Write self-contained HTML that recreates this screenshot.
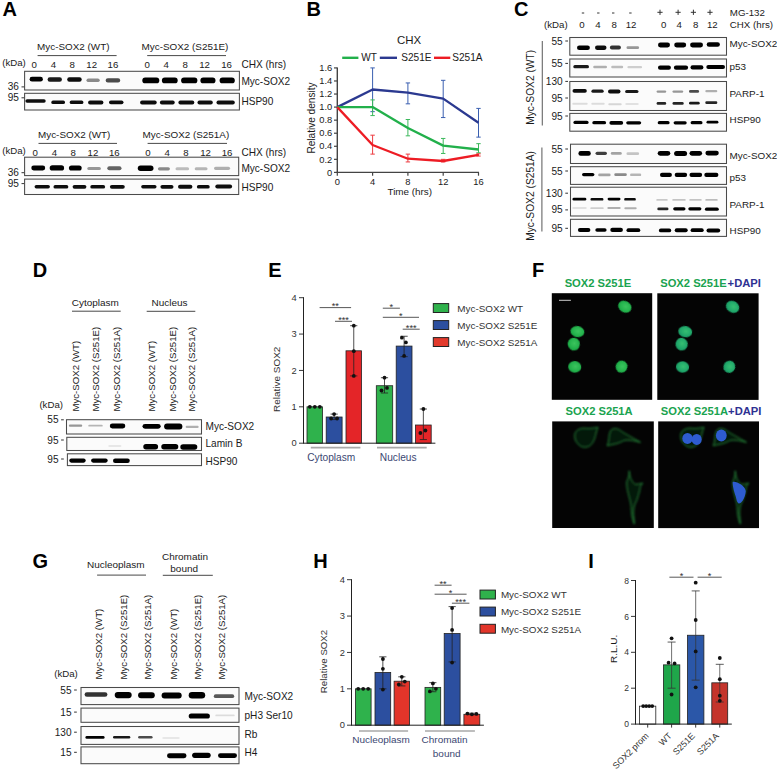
<!DOCTYPE html>
<html><head><meta charset="utf-8"><style>
html,body{margin:0;padding:0;background:#fff;}
svg{display:block;font-family:"Liberation Sans", sans-serif;}
</style></head><body>
<svg width="777" height="771" viewBox="0 0 777 771">
<defs>
<radialGradient id="ng1" cx="55%" cy="45%" r="60%"><stop offset="0" stop-color="#3cc45e"/><stop offset="0.7" stop-color="#22b14b"/><stop offset="1" stop-color="#17913c"/></radialGradient>
<radialGradient id="ng2" cx="55%" cy="45%" r="60%"><stop offset="0" stop-color="#36bf72"/><stop offset="0.7" stop-color="#1fa66a"/><stop offset="1" stop-color="#168858"/></radialGradient>
<filter id="b1" x="-20%" y="-100%" width="140%" height="300%"><feGaussianBlur stdDeviation="0.55"/></filter>
<filter id="b05" x="-30%" y="-30%" width="160%" height="160%"><feGaussianBlur stdDeviation="0.6"/></filter>
<filter id="b04" x="-30%" y="-30%" width="160%" height="160%"><feGaussianBlur stdDeviation="0.45"/></filter>
<filter id="b07" x="-30%" y="-30%" width="160%" height="160%"><feGaussianBlur stdDeviation="0.8"/></filter>
</defs>
<rect width="777" height="771" fill="#fff"/>
<text x="2.5" y="16.0" font-size="20" text-anchor="start" fill="#000" font-weight="bold">A</text>
<text x="37.1" y="50.3" font-size="9.88" text-anchor="start" fill="#1a1a1a">Myc-SOX2 (WT)</text>
<line x1="37.6" y1="55.6" x2="116.6" y2="55.6" stroke="#333" stroke-width="0.9"/>
<text x="141.6" y="50.3" font-size="9.88" text-anchor="start" fill="#1a1a1a">Myc-SOX2 (S251E)</text>
<line x1="147.2" y1="55.6" x2="226" y2="55.6" stroke="#333" stroke-width="0.9"/>
<text x="2.2" y="66" font-size="9.67" text-anchor="start" fill="#1a1a1a">(kDa)</text>
<text x="34.3" y="68.3" font-size="9.67" text-anchor="middle" fill="#1a1a1a">0</text>
<text x="53.5" y="68.3" font-size="9.67" text-anchor="middle" fill="#1a1a1a">4</text>
<text x="72.3" y="68.3" font-size="9.67" text-anchor="middle" fill="#1a1a1a">8</text>
<text x="91.7" y="68.3" font-size="9.67" text-anchor="middle" fill="#1a1a1a">12</text>
<text x="112.9" y="68.3" font-size="9.67" text-anchor="middle" fill="#1a1a1a">16</text>
<text x="147.2" y="68.3" font-size="9.67" text-anchor="middle" fill="#1a1a1a">0</text>
<text x="166.2" y="68.3" font-size="9.67" text-anchor="middle" fill="#1a1a1a">4</text>
<text x="185.3" y="68.3" font-size="9.67" text-anchor="middle" fill="#1a1a1a">8</text>
<text x="204.5" y="68.3" font-size="9.67" text-anchor="middle" fill="#1a1a1a">12</text>
<text x="226.5" y="68.3" font-size="9.67" text-anchor="middle" fill="#1a1a1a">16</text>
<text x="241.4" y="68.3" font-size="10.09" text-anchor="start" fill="#1a1a1a">CHX (hrs)</text>
<rect x="24.6" y="71.3" width="214.8" height="18.700000000000003" fill="#fbfbfb" stroke="#4a4a4a" stroke-width="1.05"/>
<rect x="24.6" y="93.3" width="214.8" height="16.700000000000003" fill="#fbfbfb" stroke="#4a4a4a" stroke-width="1.05"/>
<text x="18.9" y="90.4" font-size="10.09" text-anchor="end" fill="#1a1a1a">36</text>
<line x1="21.5" y1="86.9" x2="24.2" y2="86.9" stroke="#333" stroke-width="1"/>
<text x="18.9" y="101.3" font-size="10.09" text-anchor="end" fill="#1a1a1a">95</text>
<line x1="21.5" y1="97.8" x2="24.2" y2="97.8" stroke="#333" stroke-width="1"/>
<text x="241.4" y="85.1" font-size="10.09" text-anchor="start" fill="#1a1a1a">Myc-SOX2</text>
<text x="241.4" y="104.6" font-size="10.09" text-anchor="start" fill="#1a1a1a">HSP90</text>
<rect x="29.6" y="76.8" width="13.3" height="4.8" rx="2.4" ry="2.4" fill="#000" fill-opacity="1" filter="url(#b1)"/>
<rect x="47.6" y="77.3" width="14.3" height="4.5" rx="2.2" ry="2.2" fill="#000" fill-opacity="0.9" filter="url(#b1)"/>
<rect x="67.2" y="77.3" width="14.5" height="4.5" rx="2.2" ry="2.2" fill="#000" fill-opacity="0.95" filter="url(#b1)"/>
<rect x="86.5" y="78.4" width="13.2" height="3.7" rx="1.9" ry="1.9" fill="#000" fill-opacity="0.45" filter="url(#b1)"/>
<rect x="105.7" y="78.2" width="14.5" height="4.3" rx="2.1" ry="2.1" fill="#000" fill-opacity="0.7" filter="url(#b1)"/>
<rect x="142.3" y="77.4" width="17.0" height="5.9" rx="2.9" ry="2.9" fill="#000" fill-opacity="1" filter="url(#b1)"/>
<rect x="161.9" y="77.4" width="15.8" height="5.9" rx="2.9" ry="2.9" fill="#000" fill-opacity="1" filter="url(#b1)"/>
<rect x="181.1" y="77.4" width="16.3" height="5.9" rx="2.9" ry="2.9" fill="#000" fill-opacity="1" filter="url(#b1)"/>
<rect x="200.4" y="77.4" width="15.1" height="5.9" rx="2.9" ry="2.9" fill="#000" fill-opacity="1" filter="url(#b1)"/>
<rect x="219.6" y="77.4" width="15.2" height="5.9" rx="2.9" ry="2.9" fill="#000" fill-opacity="1" filter="url(#b1)"/>
<rect x="25.4" y="99.3" width="20.3" height="3.5" rx="1.7" ry="1.7" fill="#000" fill-opacity="0.95" filter="url(#b1)"/>
<rect x="51.3" y="100.6" width="13.7" height="3.5" rx="1.7" ry="1.7" fill="#000" fill-opacity="0.95" filter="url(#b1)"/>
<rect x="69.7" y="100.6" width="13.7" height="3.5" rx="1.7" ry="1.7" fill="#000" fill-opacity="0.95" filter="url(#b1)"/>
<rect x="88.1" y="100.6" width="15.3" height="3.8" rx="1.9" ry="1.9" fill="#000" fill-opacity="0.95" filter="url(#b1)"/>
<rect x="109.0" y="100.4" width="14.5" height="3.8" rx="1.9" ry="1.9" fill="#000" fill-opacity="0.95" filter="url(#b1)"/>
<rect x="140.1" y="100.6" width="16.6" height="3.8" rx="1.9" ry="1.9" fill="#000" fill-opacity="0.95" filter="url(#b1)"/>
<rect x="159.9" y="100.6" width="14.8" height="3.8" rx="1.9" ry="1.9" fill="#000" fill-opacity="0.95" filter="url(#b1)"/>
<rect x="178.4" y="100.6" width="15.9" height="3.8" rx="1.9" ry="1.9" fill="#000" fill-opacity="0.95" filter="url(#b1)"/>
<rect x="197.5" y="100.6" width="15.3" height="3.8" rx="1.9" ry="1.9" fill="#000" fill-opacity="0.95" filter="url(#b1)"/>
<rect x="216.5" y="100.6" width="18.3" height="3.8" rx="1.9" ry="1.9" fill="#000" fill-opacity="0.95" filter="url(#b1)"/>
<text x="38.0" y="138.3" font-size="9.88" text-anchor="start" fill="#1a1a1a">Myc-SOX2 (WT)</text>
<line x1="38.5" y1="143.4" x2="117" y2="143.4" stroke="#333" stroke-width="0.9"/>
<text x="142.5" y="138.3" font-size="9.88" text-anchor="start" fill="#1a1a1a">Myc-SOX2 (S251A)</text>
<line x1="147.6" y1="143.4" x2="227" y2="143.4" stroke="#333" stroke-width="0.9"/>
<text x="2.2" y="154.3" font-size="9.67" text-anchor="start" fill="#1a1a1a">(kDa)</text>
<text x="35.1" y="155.5" font-size="9.67" text-anchor="middle" fill="#1a1a1a">0</text>
<text x="54.4" y="155.5" font-size="9.67" text-anchor="middle" fill="#1a1a1a">4</text>
<text x="73.3" y="155.5" font-size="9.67" text-anchor="middle" fill="#1a1a1a">8</text>
<text x="92.9" y="155.5" font-size="9.67" text-anchor="middle" fill="#1a1a1a">12</text>
<text x="114.3" y="155.5" font-size="9.67" text-anchor="middle" fill="#1a1a1a">16</text>
<text x="148" y="155.5" font-size="9.67" text-anchor="middle" fill="#1a1a1a">0</text>
<text x="167.1" y="155.5" font-size="9.67" text-anchor="middle" fill="#1a1a1a">4</text>
<text x="186" y="155.5" font-size="9.67" text-anchor="middle" fill="#1a1a1a">8</text>
<text x="205.6" y="155.5" font-size="9.67" text-anchor="middle" fill="#1a1a1a">12</text>
<text x="227" y="155.5" font-size="9.67" text-anchor="middle" fill="#1a1a1a">16</text>
<text x="241.4" y="155.5" font-size="10.09" text-anchor="start" fill="#1a1a1a">CHX (hrs)</text>
<rect x="24.6" y="157.2" width="214.1" height="18.400000000000006" fill="#fbfbfb" stroke="#4a4a4a" stroke-width="1.05"/>
<rect x="24.6" y="179.1" width="214.1" height="15.400000000000006" fill="#fbfbfb" stroke="#4a4a4a" stroke-width="1.05"/>
<text x="18.9" y="176.2" font-size="10.09" text-anchor="end" fill="#1a1a1a">36</text>
<line x1="21.5" y1="172.7" x2="24.2" y2="172.7" stroke="#333" stroke-width="1"/>
<text x="18.9" y="187.1" font-size="10.09" text-anchor="end" fill="#1a1a1a">95</text>
<line x1="21.5" y1="183.6" x2="24.2" y2="183.6" stroke="#333" stroke-width="1"/>
<text x="241.4" y="171.9" font-size="10.09" text-anchor="start" fill="#1a1a1a">Myc-SOX2</text>
<text x="241.4" y="191.1" font-size="10.09" text-anchor="start" fill="#1a1a1a">HSP90</text>
<rect x="31.3" y="165.6" width="13.9" height="4.8" rx="2.4" ry="2.4" fill="#000" fill-opacity="1" filter="url(#b1)"/>
<rect x="49.7" y="165.3" width="14.4" height="5.3" rx="2.7" ry="2.7" fill="#000" fill-opacity="1" filter="url(#b1)"/>
<rect x="68.9" y="165.4" width="12.8" height="5.1" rx="2.6" ry="2.6" fill="#000" fill-opacity="1" filter="url(#b1)"/>
<rect x="87.3" y="166.9" width="13.6" height="3.2" rx="1.6" ry="1.6" fill="#000" fill-opacity="0.4" filter="url(#b1)"/>
<rect x="107.3" y="166.3" width="14.2" height="4.0" rx="2.0" ry="2.0" fill="#000" fill-opacity="0.6" filter="url(#b1)"/>
<rect x="137.8" y="165.6" width="15.7" height="5.3" rx="2.7" ry="2.7" fill="#000" fill-opacity="1" filter="url(#b1)"/>
<rect x="157.9" y="167.2" width="12.0" height="3.2" rx="1.6" ry="1.6" fill="#000" fill-opacity="0.45" filter="url(#b1)"/>
<rect x="175.5" y="167.3" width="13.6" height="3.0" rx="1.5" ry="1.5" fill="#000" fill-opacity="0.25" filter="url(#b1)"/>
<rect x="194.7" y="167.3" width="12.8" height="3.0" rx="1.5" ry="1.5" fill="#000" fill-opacity="0.28" filter="url(#b1)"/>
<rect x="214.0" y="166.7" width="16.1" height="3.2" rx="1.6" ry="1.6" fill="#000" fill-opacity="0.3" filter="url(#b1)"/>
<rect x="34.6" y="184.9" width="15.3" height="3.5" rx="1.7" ry="1.7" fill="#000" fill-opacity="0.95" filter="url(#b1)"/>
<rect x="53.5" y="185.1" width="14.8" height="3.5" rx="1.7" ry="1.7" fill="#000" fill-opacity="0.95" filter="url(#b1)"/>
<rect x="72.6" y="184.9" width="13.8" height="3.8" rx="1.9" ry="1.9" fill="#000" fill-opacity="0.95" filter="url(#b1)"/>
<rect x="90.3" y="185.1" width="14.8" height="3.5" rx="1.7" ry="1.7" fill="#000" fill-opacity="0.95" filter="url(#b1)"/>
<rect x="109.9" y="184.9" width="14.9" height="3.8" rx="1.9" ry="1.9" fill="#000" fill-opacity="0.95" filter="url(#b1)"/>
<rect x="141.2" y="184.9" width="15.3" height="3.5" rx="1.7" ry="1.7" fill="#000" fill-opacity="0.95" filter="url(#b1)"/>
<rect x="160.4" y="184.9" width="13.1" height="3.8" rx="1.9" ry="1.9" fill="#000" fill-opacity="0.95" filter="url(#b1)"/>
<rect x="178.0" y="184.8" width="14.4" height="4.0" rx="2.0" ry="2.0" fill="#000" fill-opacity="0.95" filter="url(#b1)"/>
<rect x="196.9" y="185.1" width="12.8" height="3.5" rx="1.7" ry="1.7" fill="#000" fill-opacity="0.95" filter="url(#b1)"/>
<rect x="215.3" y="184.6" width="16.8" height="4.0" rx="2.0" ry="2.0" fill="#000" fill-opacity="0.95" filter="url(#b1)"/>
<text x="306.5" y="16.0" font-size="20" text-anchor="start" fill="#000" font-weight="bold">B</text>
<text x="409" y="44.3" font-size="11.44" text-anchor="middle" fill="#1a1a1a">CHX</text>
<line x1="342.2" y1="57.8" x2="358.4" y2="57.8" stroke="#22b04b" stroke-width="2.4"/>
<text x="361.3" y="61.2" font-size="10.09" text-anchor="start" fill="#1a1a1a">WT</text>
<line x1="379.8" y1="57.8" x2="397" y2="57.8" stroke="#2b3990" stroke-width="2.4"/>
<text x="401.3" y="61.2" font-size="10.09" text-anchor="start" fill="#1a1a1a">S251E</text>
<line x1="434" y1="57.8" x2="450.3" y2="57.8" stroke="#ed1c24" stroke-width="2.4"/>
<text x="452.3" y="61.2" font-size="10.09" text-anchor="start" fill="#1a1a1a">S251A</text>
<line x1="337.3" y1="67.42" x2="337.3" y2="173.0" stroke="#444" stroke-width="1.4"/>
<line x1="336.7" y1="172.4" x2="479.0" y2="172.4" stroke="#444" stroke-width="1.4"/>
<line x1="334.0" y1="172.4" x2="337.3" y2="172.4" stroke="#444" stroke-width="1.2"/>
<text x="332.2" y="175.6" font-size="9.36" text-anchor="end" fill="#1a1a1a">0</text>
<line x1="334.0" y1="159.34" x2="337.3" y2="159.34" stroke="#444" stroke-width="1.2"/>
<text x="332.2" y="162.54" font-size="9.36" text-anchor="end" fill="#1a1a1a">0.2</text>
<line x1="334.0" y1="146.28" x2="337.3" y2="146.28" stroke="#444" stroke-width="1.2"/>
<text x="332.2" y="149.48" font-size="9.36" text-anchor="end" fill="#1a1a1a">0.4</text>
<line x1="334.0" y1="133.22" x2="337.3" y2="133.22" stroke="#444" stroke-width="1.2"/>
<text x="332.2" y="136.42" font-size="9.36" text-anchor="end" fill="#1a1a1a">0.6</text>
<line x1="334.0" y1="120.16" x2="337.3" y2="120.16" stroke="#444" stroke-width="1.2"/>
<text x="332.2" y="123.36" font-size="9.36" text-anchor="end" fill="#1a1a1a">0.8</text>
<line x1="334.0" y1="107.10000000000001" x2="337.3" y2="107.10000000000001" stroke="#444" stroke-width="1.2"/>
<text x="332.2" y="110.30000000000001" font-size="9.36" text-anchor="end" fill="#1a1a1a">1.0</text>
<line x1="334.0" y1="94.04" x2="337.3" y2="94.04" stroke="#444" stroke-width="1.2"/>
<text x="332.2" y="97.24000000000001" font-size="9.36" text-anchor="end" fill="#1a1a1a">1.2</text>
<line x1="334.0" y1="80.98000000000002" x2="337.3" y2="80.98000000000002" stroke="#444" stroke-width="1.2"/>
<text x="332.2" y="84.18000000000002" font-size="9.36" text-anchor="end" fill="#1a1a1a">1.4</text>
<line x1="334.0" y1="67.92" x2="337.3" y2="67.92" stroke="#444" stroke-width="1.2"/>
<text x="332.2" y="71.12" font-size="9.36" text-anchor="end" fill="#1a1a1a">1.6</text>
<line x1="337.3" y1="172.4" x2="337.3" y2="175.70000000000002" stroke="#444" stroke-width="1.2"/>
<text x="337.3" y="185" font-size="9.36" text-anchor="middle" fill="#1a1a1a">0</text>
<line x1="372.6" y1="172.4" x2="372.6" y2="175.70000000000002" stroke="#444" stroke-width="1.2"/>
<text x="372.6" y="185" font-size="9.36" text-anchor="middle" fill="#1a1a1a">4</text>
<line x1="407.9" y1="172.4" x2="407.9" y2="175.70000000000002" stroke="#444" stroke-width="1.2"/>
<text x="407.9" y="185" font-size="9.36" text-anchor="middle" fill="#1a1a1a">8</text>
<line x1="443.2" y1="172.4" x2="443.2" y2="175.70000000000002" stroke="#444" stroke-width="1.2"/>
<text x="443.2" y="185" font-size="9.36" text-anchor="middle" fill="#1a1a1a">12</text>
<line x1="478.5" y1="172.4" x2="478.5" y2="175.70000000000002" stroke="#444" stroke-width="1.2"/>
<text x="478.5" y="185" font-size="9.36" text-anchor="middle" fill="#1a1a1a">16</text>
<text x="409.8" y="194.6" font-size="9.88" text-anchor="middle" fill="#1a1a1a">Time (hrs)</text>
<text x="315.4" y="118" font-size="10.09" text-anchor="middle" fill="#1a1a1a" transform="rotate(-90 315.4 118)">Relative density</text>
<line x1="372.6" y1="67.92" x2="372.6" y2="111.671" stroke="#3a5fb0" stroke-width="1"/>
<line x1="370.40000000000003" y1="67.92" x2="374.8" y2="67.92" stroke="#3a5fb0" stroke-width="1"/>
<line x1="370.40000000000003" y1="111.671" x2="374.8" y2="111.671" stroke="#3a5fb0" stroke-width="1"/>
<line x1="407.9" y1="82.93900000000001" x2="407.9" y2="103.83500000000001" stroke="#3a5fb0" stroke-width="1"/>
<line x1="405.7" y1="82.93900000000001" x2="410.09999999999997" y2="82.93900000000001" stroke="#3a5fb0" stroke-width="1"/>
<line x1="405.7" y1="103.83500000000001" x2="410.09999999999997" y2="103.83500000000001" stroke="#3a5fb0" stroke-width="1"/>
<line x1="443.2" y1="80.32700000000001" x2="443.2" y2="117.548" stroke="#3a5fb0" stroke-width="1"/>
<line x1="441.0" y1="80.32700000000001" x2="445.4" y2="80.32700000000001" stroke="#3a5fb0" stroke-width="1"/>
<line x1="441.0" y1="117.548" x2="445.4" y2="117.548" stroke="#3a5fb0" stroke-width="1"/>
<line x1="478.5" y1="108.406" x2="478.5" y2="137.138" stroke="#3a5fb0" stroke-width="1"/>
<line x1="476.3" y1="108.406" x2="480.7" y2="108.406" stroke="#3a5fb0" stroke-width="1"/>
<line x1="476.3" y1="137.138" x2="480.7" y2="137.138" stroke="#3a5fb0" stroke-width="1"/>
<line x1="372.6" y1="99.917" x2="372.6" y2="115.589" stroke="#3cb85c" stroke-width="1"/>
<line x1="370.40000000000003" y1="99.917" x2="374.8" y2="99.917" stroke="#3cb85c" stroke-width="1"/>
<line x1="370.40000000000003" y1="115.589" x2="374.8" y2="115.589" stroke="#3cb85c" stroke-width="1"/>
<line x1="407.9" y1="119.507" x2="407.9" y2="135.832" stroke="#3cb85c" stroke-width="1"/>
<line x1="405.7" y1="119.507" x2="410.09999999999997" y2="119.507" stroke="#3cb85c" stroke-width="1"/>
<line x1="405.7" y1="135.832" x2="410.09999999999997" y2="135.832" stroke="#3cb85c" stroke-width="1"/>
<line x1="443.2" y1="138.44400000000002" x2="443.2" y2="153.46300000000002" stroke="#3cb85c" stroke-width="1"/>
<line x1="441.0" y1="138.44400000000002" x2="445.4" y2="138.44400000000002" stroke="#3cb85c" stroke-width="1"/>
<line x1="441.0" y1="153.46300000000002" x2="445.4" y2="153.46300000000002" stroke="#3cb85c" stroke-width="1"/>
<line x1="478.5" y1="143.668" x2="478.5" y2="152.81" stroke="#3cb85c" stroke-width="1"/>
<line x1="476.3" y1="143.668" x2="480.7" y2="143.668" stroke="#3cb85c" stroke-width="1"/>
<line x1="476.3" y1="152.81" x2="480.7" y2="152.81" stroke="#3cb85c" stroke-width="1"/>
<line x1="372.6" y1="135.179" x2="372.6" y2="154.116" stroke="#ed3c40" stroke-width="1"/>
<line x1="370.40000000000003" y1="135.179" x2="374.8" y2="135.179" stroke="#ed3c40" stroke-width="1"/>
<line x1="370.40000000000003" y1="154.116" x2="374.8" y2="154.116" stroke="#ed3c40" stroke-width="1"/>
<line x1="407.9" y1="154.116" x2="407.9" y2="161.952" stroke="#ed3c40" stroke-width="1"/>
<line x1="405.7" y1="154.116" x2="410.09999999999997" y2="154.116" stroke="#ed3c40" stroke-width="1"/>
<line x1="405.7" y1="161.952" x2="410.09999999999997" y2="161.952" stroke="#ed3c40" stroke-width="1"/>
<line x1="443.2" y1="159.34" x2="443.2" y2="161.952" stroke="#ed3c40" stroke-width="1"/>
<line x1="441.0" y1="159.34" x2="445.4" y2="159.34" stroke="#ed3c40" stroke-width="1"/>
<line x1="441.0" y1="161.952" x2="445.4" y2="161.952" stroke="#ed3c40" stroke-width="1"/>
<line x1="478.5" y1="153.7895" x2="478.5" y2="156.07500000000002" stroke="#ed3c40" stroke-width="1"/>
<line x1="476.3" y1="153.7895" x2="480.7" y2="153.7895" stroke="#ed3c40" stroke-width="1"/>
<line x1="476.3" y1="156.07500000000002" x2="480.7" y2="156.07500000000002" stroke="#ed3c40" stroke-width="1"/>
<polyline points="337.3,107.1 372.6,89.5 407.9,92.7 443.2,98.6 478.5,122.8" fill="none" stroke="#2b3990" stroke-width="2.3" stroke-linejoin="round"/>
<polyline points="337.3,107.1 372.6,107.1 407.9,128.0 443.2,145.6 478.5,149.5" fill="none" stroke="#22b04b" stroke-width="2.3" stroke-linejoin="round"/>
<polyline points="337.3,107.1 372.6,145.0 407.9,158.7 443.2,161.0 478.5,154.8" fill="none" stroke="#ed1c24" stroke-width="2.3" stroke-linejoin="round"/>
<text x="514" y="16.0" font-size="20" text-anchor="start" fill="#000" font-weight="bold">C</text>
<line x1="581.8" y1="13" x2="584.2" y2="13" stroke="#333" stroke-width="1"/>
<line x1="597.0999999999999" y1="13" x2="599.5" y2="13" stroke="#333" stroke-width="1"/>
<line x1="612.0" y1="13" x2="614.4000000000001" y2="13" stroke="#333" stroke-width="1"/>
<line x1="629.1999999999999" y1="13" x2="631.6" y2="13" stroke="#333" stroke-width="1"/>
<line x1="657.4" y1="12.3" x2="662.6" y2="12.3" stroke="#333" stroke-width="1"/>
<line x1="660" y1="9.7" x2="660" y2="14.9" stroke="#333" stroke-width="1"/>
<line x1="675.5" y1="12.3" x2="680.7" y2="12.3" stroke="#333" stroke-width="1"/>
<line x1="678.1" y1="9.7" x2="678.1" y2="14.9" stroke="#333" stroke-width="1"/>
<line x1="690.8" y1="12.3" x2="696.0" y2="12.3" stroke="#333" stroke-width="1"/>
<line x1="693.4" y1="9.7" x2="693.4" y2="14.9" stroke="#333" stroke-width="1"/>
<line x1="707.4" y1="12.3" x2="712.6" y2="12.3" stroke="#333" stroke-width="1"/>
<line x1="710" y1="9.7" x2="710" y2="14.9" stroke="#333" stroke-width="1"/>
<text x="729.8" y="15.5" font-size="9.72" text-anchor="start" fill="#1a1a1a">MG-132</text>
<text x="544" y="28.3" font-size="9.67" text-anchor="start" fill="#1a1a1a">(kDa)</text>
<text x="582" y="28.3" font-size="9.67" text-anchor="middle" fill="#1a1a1a">0</text>
<text x="597.9" y="28.3" font-size="9.67" text-anchor="middle" fill="#1a1a1a">4</text>
<text x="614.1" y="28.3" font-size="9.67" text-anchor="middle" fill="#1a1a1a">8</text>
<text x="631" y="28.3" font-size="9.67" text-anchor="middle" fill="#1a1a1a">12</text>
<text x="663.7" y="28.3" font-size="9.67" text-anchor="middle" fill="#1a1a1a">0</text>
<text x="679.3" y="28.3" font-size="9.67" text-anchor="middle" fill="#1a1a1a">4</text>
<text x="695.6" y="28.3" font-size="9.67" text-anchor="middle" fill="#1a1a1a">8</text>
<text x="712.3" y="28.3" font-size="9.67" text-anchor="middle" fill="#1a1a1a">12</text>
<text x="729.8" y="28.3" font-size="9.72" text-anchor="start" fill="#1a1a1a">CHX (hrs)</text>
<rect x="569.8" y="37.5" width="156.70000000000005" height="17.700000000000003" fill="#fbfbfb" stroke="#4a4a4a" stroke-width="1.05"/>
<rect x="569.8" y="59" width="156.70000000000005" height="18" fill="#fbfbfb" stroke="#4a4a4a" stroke-width="1.05"/>
<rect x="569.8" y="81.5" width="156.70000000000005" height="29.0" fill="#fbfbfb" stroke="#4a4a4a" stroke-width="1.05"/>
<rect x="569.8" y="113.4" width="156.70000000000005" height="17.799999999999983" fill="#fbfbfb" stroke="#4a4a4a" stroke-width="1.05"/>
<rect x="570.5" y="144.2" width="156.0" height="19.30000000000001" fill="#fbfbfb" stroke="#4a4a4a" stroke-width="1.05"/>
<rect x="570.5" y="166.7" width="156.0" height="17.700000000000017" fill="#fbfbfb" stroke="#4a4a4a" stroke-width="1.05"/>
<rect x="570.5" y="187.2" width="156.0" height="28.80000000000001" fill="#fbfbfb" stroke="#4a4a4a" stroke-width="1.05"/>
<rect x="570.5" y="219.3" width="156.0" height="17.099999999999994" fill="#fbfbfb" stroke="#4a4a4a" stroke-width="1.05"/>
<text x="562.7" y="44.5" font-size="10.09" text-anchor="end" fill="#1a1a1a">55</text>
<line x1="565.3" y1="41" x2="568" y2="41" stroke="#333" stroke-width="1"/>
<text x="562.7" y="66.9" font-size="10.09" text-anchor="end" fill="#1a1a1a">55</text>
<line x1="565.3" y1="63.4" x2="568" y2="63.4" stroke="#333" stroke-width="1"/>
<text x="562.7" y="84.9" font-size="10.09" text-anchor="end" fill="#1a1a1a">130</text>
<line x1="565.3" y1="81.4" x2="568" y2="81.4" stroke="#333" stroke-width="1"/>
<text x="562.7" y="101.5" font-size="10.09" text-anchor="end" fill="#1a1a1a">95</text>
<line x1="565.3" y1="98" x2="568" y2="98" stroke="#333" stroke-width="1"/>
<text x="562.7" y="119.5" font-size="10.09" text-anchor="end" fill="#1a1a1a">95</text>
<line x1="565.3" y1="116" x2="568" y2="116" stroke="#333" stroke-width="1"/>
<text x="562.7" y="152.5" font-size="10.09" text-anchor="end" fill="#1a1a1a">55</text>
<line x1="565.3" y1="149" x2="568" y2="149" stroke="#333" stroke-width="1"/>
<text x="562.7" y="174.5" font-size="10.09" text-anchor="end" fill="#1a1a1a">55</text>
<line x1="565.3" y1="171" x2="568" y2="171" stroke="#333" stroke-width="1"/>
<text x="562.7" y="196.7" font-size="10.09" text-anchor="end" fill="#1a1a1a">130</text>
<line x1="565.3" y1="193.2" x2="568" y2="193.2" stroke="#333" stroke-width="1"/>
<text x="562.7" y="213.4" font-size="10.09" text-anchor="end" fill="#1a1a1a">95</text>
<line x1="565.3" y1="209.9" x2="568" y2="209.9" stroke="#333" stroke-width="1"/>
<text x="562.7" y="231.8" font-size="10.09" text-anchor="end" fill="#1a1a1a">95</text>
<line x1="565.3" y1="228.3" x2="568" y2="228.3" stroke="#333" stroke-width="1"/>
<text x="729.5" y="46.8" font-size="9.88" text-anchor="start" fill="#1a1a1a">Myc-SOX2</text>
<text x="729.5" y="69.9" font-size="9.88" text-anchor="start" fill="#1a1a1a">p53</text>
<text x="729.5" y="96.6" font-size="9.88" text-anchor="start" fill="#1a1a1a">PARP-1</text>
<text x="729.5" y="123.3" font-size="9.88" text-anchor="start" fill="#1a1a1a">HSP90</text>
<text x="729.5" y="158.5" font-size="9.88" text-anchor="start" fill="#1a1a1a">Myc-SOX2</text>
<text x="729.5" y="180.5" font-size="9.88" text-anchor="start" fill="#1a1a1a">p53</text>
<text x="729.5" y="207.7" font-size="9.88" text-anchor="start" fill="#1a1a1a">PARP-1</text>
<text x="729.5" y="233.8" font-size="9.88" text-anchor="start" fill="#1a1a1a">HSP90</text>
<line x1="542.3" y1="41" x2="542.3" y2="125.5" stroke="#666" stroke-width="1.1"/>
<line x1="541.9" y1="147.5" x2="541.9" y2="231.4" stroke="#666" stroke-width="1.1"/>
<text x="533.8" y="87.3" font-size="10.24" text-anchor="middle" fill="#1a1a1a" transform="rotate(-90 533.8 87.3)">Myc-SOX2 (WT)</text>
<text x="533.8" y="195.9" font-size="10.24" text-anchor="middle" fill="#1a1a1a" transform="rotate(-90 533.8 195.9)">Myc-SOX2 (S251A)</text>
<rect x="577.0" y="45.4" width="12.9" height="4.6" rx="2.3" ry="2.3" fill="#000" fill-opacity="1" filter="url(#b1)"/>
<rect x="595.0" y="45.6" width="11.5" height="4.3" rx="2.1" ry="2.1" fill="#000" fill-opacity="0.95" filter="url(#b1)"/>
<rect x="609.9" y="45.6" width="11.0" height="3.8" rx="1.9" ry="1.9" fill="#000" fill-opacity="0.8" filter="url(#b1)"/>
<rect x="626.5" y="46.3" width="12.6" height="2.8" rx="1.4" ry="1.4" fill="#000" fill-opacity="0.4" filter="url(#b1)"/>
<rect x="658.0" y="42.6" width="12.0" height="4.8" rx="2.4" ry="2.4" fill="#000" fill-opacity="1" filter="url(#b1)"/>
<rect x="674.2" y="42.5" width="12.0" height="4.9" rx="2.5" ry="2.5" fill="#000" fill-opacity="1" filter="url(#b1)"/>
<rect x="690.1" y="42.6" width="12.9" height="4.8" rx="2.4" ry="2.4" fill="#000" fill-opacity="1" filter="url(#b1)"/>
<rect x="706.7" y="42.2" width="13.2" height="4.6" rx="2.3" ry="2.3" fill="#000" fill-opacity="1" filter="url(#b1)"/>
<rect x="573.3" y="65.1" width="15.7" height="3.1" rx="1.6" ry="1.6" fill="#000" fill-opacity="0.9" filter="url(#b1)"/>
<rect x="593.2" y="65.8" width="13.8" height="2.4" rx="1.2" ry="1.2" fill="#000" fill-opacity="0.3" filter="url(#b1)"/>
<rect x="611.2" y="65.8" width="12.0" height="2.4" rx="1.2" ry="1.2" fill="#000" fill-opacity="0.25" filter="url(#b1)"/>
<rect x="627.4" y="66.1" width="14.7" height="2.2" rx="1.1" ry="1.1" fill="#000" fill-opacity="0.18" filter="url(#b1)"/>
<rect x="658.0" y="65.5" width="12.9" height="4.3" rx="2.1" ry="2.1" fill="#000" fill-opacity="1" filter="url(#b1)"/>
<rect x="673.9" y="65.5" width="14.2" height="4.3" rx="2.1" ry="2.1" fill="#000" fill-opacity="1" filter="url(#b1)"/>
<rect x="690.5" y="65.3" width="12.9" height="4.3" rx="2.1" ry="2.1" fill="#000" fill-opacity="1" filter="url(#b1)"/>
<rect x="706.3" y="65.0" width="18.7" height="4.1" rx="2.0" ry="2.0" fill="#000" fill-opacity="1" filter="url(#b1)"/>
<rect x="572.5" y="89.1" width="14.3" height="3.6" rx="1.8" ry="1.8" fill="#000" fill-opacity="0.95" filter="url(#b1)"/>
<rect x="591.4" y="89.5" width="12.3" height="3.3" rx="1.7" ry="1.7" fill="#000" fill-opacity="0.9" filter="url(#b1)"/>
<rect x="608.0" y="89.5" width="12.5" height="4.0" rx="2.0" ry="2.0" fill="#000" fill-opacity="0.95" filter="url(#b1)"/>
<rect x="625.1" y="89.9" width="13.4" height="3.1" rx="1.6" ry="1.6" fill="#000" fill-opacity="0.9" filter="url(#b1)"/>
<rect x="572.3" y="102.8" width="15.4" height="1.9" rx="0.9" ry="0.9" fill="#000" fill-opacity="0.12" filter="url(#b1)"/>
<rect x="591.3" y="102.8" width="13.4" height="1.9" rx="0.9" ry="0.9" fill="#000" fill-opacity="0.12" filter="url(#b1)"/>
<rect x="608.3" y="103.2" width="13.4" height="2.1" rx="1.0" ry="1.0" fill="#000" fill-opacity="0.15" filter="url(#b1)"/>
<rect x="625.3" y="103.0" width="13.4" height="1.9" rx="0.9" ry="0.9" fill="#000" fill-opacity="0.1" filter="url(#b1)"/>
<rect x="656.6" y="90.4" width="9.6" height="2.4" rx="1.2" ry="1.2" fill="#000" fill-opacity="0.4" filter="url(#b1)"/>
<rect x="672.5" y="90.4" width="10.7" height="2.4" rx="1.2" ry="1.2" fill="#000" fill-opacity="0.4" filter="url(#b1)"/>
<rect x="689.0" y="90.1" width="10.1" height="2.7" rx="1.3" ry="1.3" fill="#000" fill-opacity="0.7" filter="url(#b1)"/>
<rect x="705.3" y="90.1" width="12.0" height="2.2" rx="1.1" ry="1.1" fill="#000" fill-opacity="0.3" filter="url(#b1)"/>
<rect x="656.6" y="102.1" width="9.6" height="2.7" rx="1.3" ry="1.3" fill="#000" fill-opacity="0.85" filter="url(#b1)"/>
<rect x="672.5" y="102.1" width="11.2" height="2.7" rx="1.3" ry="1.3" fill="#000" fill-opacity="0.85" filter="url(#b1)"/>
<rect x="689.0" y="101.8" width="10.7" height="2.8" rx="1.4" ry="1.4" fill="#000" fill-opacity="0.9" filter="url(#b1)"/>
<rect x="705.3" y="101.3" width="12.0" height="2.7" rx="1.3" ry="1.3" fill="#000" fill-opacity="0.85" filter="url(#b1)"/>
<rect x="573.4" y="120.8" width="15.2" height="3.3" rx="1.7" ry="1.7" fill="#000" fill-opacity="1" filter="url(#b1)"/>
<rect x="592.3" y="121.0" width="13.8" height="3.3" rx="1.7" ry="1.7" fill="#000" fill-opacity="1" filter="url(#b1)"/>
<rect x="609.4" y="121.1" width="13.8" height="3.6" rx="1.8" ry="1.8" fill="#000" fill-opacity="1" filter="url(#b1)"/>
<rect x="626.2" y="121.2" width="15.0" height="3.3" rx="1.7" ry="1.7" fill="#000" fill-opacity="1" filter="url(#b1)"/>
<rect x="657.7" y="121.1" width="11.9" height="3.1" rx="1.6" ry="1.6" fill="#000" fill-opacity="1" filter="url(#b1)"/>
<rect x="673.6" y="121.3" width="13.1" height="3.1" rx="1.6" ry="1.6" fill="#000" fill-opacity="1" filter="url(#b1)"/>
<rect x="690.6" y="121.1" width="11.9" height="3.1" rx="1.6" ry="1.6" fill="#000" fill-opacity="1" filter="url(#b1)"/>
<rect x="706.5" y="120.8" width="11.9" height="2.8" rx="1.4" ry="1.4" fill="#000" fill-opacity="1" filter="url(#b1)"/>
<rect x="578.4" y="151.1" width="12.4" height="4.6" rx="2.3" ry="2.3" fill="#000" fill-opacity="1" filter="url(#b1)"/>
<rect x="595.5" y="151.7" width="11.5" height="3.3" rx="1.7" ry="1.7" fill="#000" fill-opacity="0.75" filter="url(#b1)"/>
<rect x="610.8" y="152.0" width="11.0" height="2.8" rx="1.4" ry="1.4" fill="#000" fill-opacity="0.35" filter="url(#b1)"/>
<rect x="626.5" y="152.3" width="12.6" height="2.7" rx="1.3" ry="1.3" fill="#000" fill-opacity="0.22" filter="url(#b1)"/>
<rect x="657.7" y="150.9" width="12.6" height="4.8" rx="2.4" ry="2.4" fill="#000" fill-opacity="1" filter="url(#b1)"/>
<rect x="674.1" y="151.0" width="13.0" height="5.0" rx="2.5" ry="2.5" fill="#000" fill-opacity="1" filter="url(#b1)"/>
<rect x="689.5" y="150.9" width="12.6" height="4.8" rx="2.4" ry="2.4" fill="#000" fill-opacity="1" filter="url(#b1)"/>
<rect x="705.4" y="150.7" width="13.4" height="4.8" rx="2.4" ry="2.4" fill="#000" fill-opacity="1" filter="url(#b1)"/>
<rect x="582.0" y="172.9" width="12.4" height="3.3" rx="1.7" ry="1.7" fill="#000" fill-opacity="1" filter="url(#b1)"/>
<rect x="598.2" y="173.5" width="12.4" height="2.7" rx="1.3" ry="1.3" fill="#000" fill-opacity="0.35" filter="url(#b1)"/>
<rect x="614.3" y="173.3" width="12.5" height="2.7" rx="1.3" ry="1.3" fill="#000" fill-opacity="0.45" filter="url(#b1)"/>
<rect x="630.1" y="173.6" width="11.1" height="2.5" rx="1.2" ry="1.2" fill="#000" fill-opacity="0.28" filter="url(#b1)"/>
<rect x="660.0" y="172.8" width="11.9" height="4.1" rx="2.0" ry="2.0" fill="#000" fill-opacity="1" filter="url(#b1)"/>
<rect x="674.7" y="172.8" width="12.4" height="4.1" rx="2.0" ry="2.0" fill="#000" fill-opacity="1" filter="url(#b1)"/>
<rect x="689.5" y="172.8" width="12.6" height="4.1" rx="2.0" ry="2.0" fill="#000" fill-opacity="1" filter="url(#b1)"/>
<rect x="704.3" y="172.8" width="14.1" height="4.1" rx="2.0" ry="2.0" fill="#000" fill-opacity="1" filter="url(#b1)"/>
<rect x="572.5" y="197.8" width="13.8" height="2.7" rx="1.3" ry="1.3" fill="#000" fill-opacity="1" filter="url(#b1)"/>
<rect x="590.5" y="198.1" width="12.9" height="2.5" rx="1.2" ry="1.2" fill="#000" fill-opacity="0.95" filter="url(#b1)"/>
<rect x="607.6" y="197.7" width="12.9" height="2.8" rx="1.4" ry="1.4" fill="#000" fill-opacity="1" filter="url(#b1)"/>
<rect x="624.2" y="198.1" width="11.6" height="2.5" rx="1.2" ry="1.2" fill="#000" fill-opacity="0.95" filter="url(#b1)"/>
<rect x="572.3" y="207.1" width="14.4" height="1.9" rx="0.9" ry="0.9" fill="#000" fill-opacity="0.1" filter="url(#b1)"/>
<rect x="590.3" y="207.2" width="13.4" height="1.9" rx="0.9" ry="0.9" fill="#000" fill-opacity="0.18" filter="url(#b1)"/>
<rect x="607.3" y="207.0" width="13.4" height="2.1" rx="1.0" ry="1.0" fill="#000" fill-opacity="0.3" filter="url(#b1)"/>
<rect x="624.3" y="207.2" width="12.4" height="2.1" rx="1.0" ry="1.0" fill="#000" fill-opacity="0.3" filter="url(#b1)"/>
<rect x="656.3" y="198.9" width="11.4" height="1.9" rx="0.9" ry="0.9" fill="#000" fill-opacity="0.2" filter="url(#b1)"/>
<rect x="672.3" y="198.9" width="13.4" height="1.9" rx="0.9" ry="0.9" fill="#000" fill-opacity="0.22" filter="url(#b1)"/>
<rect x="689.3" y="198.9" width="12.4" height="1.9" rx="0.9" ry="0.9" fill="#000" fill-opacity="0.22" filter="url(#b1)"/>
<rect x="705.3" y="198.9" width="12.4" height="1.9" rx="0.9" ry="0.9" fill="#000" fill-opacity="0.25" filter="url(#b1)"/>
<rect x="657.3" y="207.5" width="11.2" height="2.8" rx="1.4" ry="1.4" fill="#000" fill-opacity="0.85" filter="url(#b1)"/>
<rect x="673.2" y="207.3" width="12.3" height="3.1" rx="1.6" ry="1.6" fill="#000" fill-opacity="1" filter="url(#b1)"/>
<rect x="688.3" y="207.3" width="13.1" height="3.1" rx="1.6" ry="1.6" fill="#000" fill-opacity="1" filter="url(#b1)"/>
<rect x="704.9" y="207.5" width="13.9" height="3.3" rx="1.7" ry="1.7" fill="#000" fill-opacity="1" filter="url(#b1)"/>
<rect x="577.9" y="228.0" width="12.5" height="4.1" rx="2.0" ry="2.0" fill="#000" fill-opacity="1" filter="url(#b1)"/>
<rect x="595.3" y="228.2" width="11.3" height="3.6" rx="1.8" ry="1.8" fill="#000" fill-opacity="1" filter="url(#b1)"/>
<rect x="610.3" y="227.7" width="12.6" height="4.3" rx="2.1" ry="2.1" fill="#000" fill-opacity="1" filter="url(#b1)"/>
<rect x="626.5" y="228.3" width="13.8" height="3.8" rx="1.9" ry="1.9" fill="#000" fill-opacity="1" filter="url(#b1)"/>
<rect x="658.9" y="228.5" width="12.3" height="3.8" rx="1.9" ry="1.9" fill="#000" fill-opacity="1" filter="url(#b1)"/>
<rect x="674.7" y="228.2" width="13.0" height="4.1" rx="2.0" ry="2.0" fill="#000" fill-opacity="1" filter="url(#b1)"/>
<rect x="690.6" y="228.3" width="13.1" height="3.8" rx="1.9" ry="1.9" fill="#000" fill-opacity="1" filter="url(#b1)"/>
<rect x="706.5" y="228.4" width="13.7" height="4.1" rx="2.0" ry="2.0" fill="#000" fill-opacity="1" filter="url(#b1)"/>
<text x="32.8" y="277.4" font-size="20" text-anchor="start" fill="#000" font-weight="bold">D</text>
<text x="71.8" y="305.8" font-size="9.98" text-anchor="start" fill="#1a1a1a">Cytoplasm</text>
<line x1="72" y1="311.2" x2="120.7" y2="311.2" stroke="#333" stroke-width="0.9"/>
<text x="151.5" y="305.9" font-size="9.98" text-anchor="start" fill="#1a1a1a">Nucleus</text>
<line x1="146.7" y1="311.3" x2="195.3" y2="311.3" stroke="#333" stroke-width="0.9"/>
<text x="79.2" y="411.6" font-size="9.67" text-anchor="start" fill="#1a1a1a" transform="rotate(-90 79.2 411.6)">Myc-SOX2 (WT)</text>
<text x="99.2" y="411.6" font-size="9.67" text-anchor="start" fill="#1a1a1a" transform="rotate(-90 99.2 411.6)">Myc-SOX2 (S251E)</text>
<text x="120.0" y="411.6" font-size="9.67" text-anchor="start" fill="#1a1a1a" transform="rotate(-90 120.0 411.6)">Myc-SOX2 (S251A)</text>
<text x="155.1" y="411.6" font-size="9.67" text-anchor="start" fill="#1a1a1a" transform="rotate(-90 155.1 411.6)">Myc-SOX2 (WT)</text>
<text x="175.8" y="411.6" font-size="9.67" text-anchor="start" fill="#1a1a1a" transform="rotate(-90 175.8 411.6)">Myc-SOX2 (S251E)</text>
<text x="195.4" y="411.6" font-size="9.67" text-anchor="start" fill="#1a1a1a" transform="rotate(-90 195.4 411.6)">Myc-SOX2 (S251A)</text>
<text x="39.4" y="408" font-size="9.67" text-anchor="start" fill="#1a1a1a">(kDa)</text>
<rect x="66.5" y="419.7" width="135.0" height="14.300000000000011" fill="#fbfbfb" stroke="#4a4a4a" stroke-width="1.05"/>
<rect x="66.8" y="437.3" width="134.7" height="13.199999999999989" fill="#fbfbfb" stroke="#4a4a4a" stroke-width="1.05"/>
<rect x="67.4" y="453.8" width="134.1" height="11.800000000000011" fill="#fbfbfb" stroke="#4a4a4a" stroke-width="1.05"/>
<text x="58.5" y="423.3" font-size="10.09" text-anchor="end" fill="#1a1a1a">55</text>
<line x1="61.099999999999994" y1="419.8" x2="63.8" y2="419.8" stroke="#333" stroke-width="1"/>
<text x="58.5" y="443.5" font-size="10.09" text-anchor="end" fill="#1a1a1a">95</text>
<line x1="61.099999999999994" y1="440" x2="63.8" y2="440" stroke="#333" stroke-width="1"/>
<text x="58.5" y="462.5" font-size="10.09" text-anchor="end" fill="#1a1a1a">95</text>
<line x1="61.099999999999994" y1="459" x2="63.8" y2="459" stroke="#333" stroke-width="1"/>
<text x="205.5" y="429.7" font-size="10.09" text-anchor="start" fill="#1a1a1a">Myc-SOX2</text>
<text x="205.5" y="447.3" font-size="10.09" text-anchor="start" fill="#1a1a1a">Lamin B</text>
<text x="205.5" y="465.4" font-size="10.09" text-anchor="start" fill="#1a1a1a">HSP90</text>
<rect x="68.9" y="424.6" width="13.3" height="2.1" rx="1.0" ry="1.0" fill="#000" fill-opacity="0.4" filter="url(#b1)"/>
<rect x="88.3" y="424.7" width="14.4" height="1.9" rx="0.9" ry="0.9" fill="#000" fill-opacity="0.28" filter="url(#b1)"/>
<rect x="109.8" y="423.6" width="15.5" height="4.9" rx="2.5" ry="2.5" fill="#000" fill-opacity="1" filter="url(#b1)"/>
<rect x="142.5" y="423.9" width="18.2" height="4.9" rx="2.5" ry="2.5" fill="#000" fill-opacity="1" filter="url(#b1)"/>
<rect x="164.1" y="423.5" width="18.3" height="5.9" rx="2.9" ry="2.9" fill="#000" fill-opacity="1" filter="url(#b1)"/>
<rect x="185.7" y="425.8" width="12.9" height="2.1" rx="1.0" ry="1.0" fill="#000" fill-opacity="0.3" filter="url(#b1)"/>
<rect x="143.3" y="444.1" width="14.8" height="5.3" rx="2.7" ry="2.7" fill="#000" fill-opacity="1" filter="url(#b1)"/>
<rect x="161.3" y="444.1" width="17.0" height="5.3" rx="2.7" ry="2.7" fill="#000" fill-opacity="1" filter="url(#b1)"/>
<rect x="180.3" y="444.2" width="17.0" height="5.5" rx="2.8" ry="2.8" fill="#000" fill-opacity="1" filter="url(#b1)"/>
<rect x="108.3" y="445.1" width="13.1" height="1.9" rx="0.9" ry="0.9" fill="#000" fill-opacity="0.08" filter="url(#b1)"/>
<rect x="69.3" y="458.5" width="16.4" height="4.2" rx="2.1" ry="2.1" fill="#000" fill-opacity="1" filter="url(#b1)"/>
<rect x="91.1" y="458.5" width="16.6" height="4.2" rx="2.1" ry="2.1" fill="#000" fill-opacity="1" filter="url(#b1)"/>
<rect x="113.0" y="458.6" width="16.8" height="4.4" rx="2.2" ry="2.2" fill="#000" fill-opacity="1" filter="url(#b1)"/>
<text x="268.3" y="277.4" font-size="20" text-anchor="start" fill="#000" font-weight="bold">E</text>
<rect x="307" y="406.825" width="15.5" height="36.375" fill="#2fb24c" stroke="#222" stroke-width="0.8"/>
<rect x="326.2" y="417.01" width="15.900000000000034" height="26.189999999999998" fill="#2c4f9f" stroke="#222" stroke-width="0.8"/>
<rect x="346" y="350.8075" width="15.5" height="92.39249999999998" fill="#e42528" stroke="#222" stroke-width="0.8"/>
<rect x="376.3" y="385.72749999999996" width="16.399999999999977" height="57.472500000000025" fill="#2fb24c" stroke="#222" stroke-width="0.8"/>
<rect x="396.2" y="346.07875" width="15.800000000000011" height="97.12124999999997" fill="#2c4f9f" stroke="#222" stroke-width="0.8"/>
<rect x="415.5" y="425.0125" width="15.699999999999989" height="18.1875" fill="#e42528" stroke="#222" stroke-width="0.8"/>
<circle cx="309.8" cy="406.8" r="1.9" fill="#111"/>
<circle cx="314.8" cy="406.8" r="1.9" fill="#111"/>
<circle cx="319.8" cy="406.8" r="1.9" fill="#111"/>
<line x1="334.15" y1="414.09999999999997" x2="334.15" y2="419.55625" stroke="#222" stroke-width="0.8"/>
<line x1="330.54999999999995" y1="414.09999999999997" x2="337.75" y2="414.09999999999997" stroke="#222" stroke-width="0.8"/>
<line x1="330.54999999999995" y1="419.55625" x2="337.75" y2="419.55625" stroke="#222" stroke-width="0.8"/>
<circle cx="334.1" cy="414.1" r="1.9" fill="#111"/>
<circle cx="331.1" cy="418.5" r="1.9" fill="#111"/>
<circle cx="337.1" cy="418.5" r="1.9" fill="#111"/>
<line x1="353.75" y1="325.70875" x2="353.75" y2="375.90625" stroke="#222" stroke-width="0.8"/>
<line x1="350.15" y1="325.70875" x2="357.35" y2="325.70875" stroke="#222" stroke-width="0.8"/>
<line x1="350.15" y1="375.90625" x2="357.35" y2="375.90625" stroke="#222" stroke-width="0.8"/>
<circle cx="353.8" cy="325.7" r="1.9" fill="#111"/>
<circle cx="353.8" cy="351.2" r="1.9" fill="#111"/>
<circle cx="353.8" cy="375.9" r="1.9" fill="#111"/>
<line x1="384.5" y1="377.72499999999997" x2="384.5" y2="393.0025" stroke="#222" stroke-width="0.8"/>
<line x1="380.9" y1="377.72499999999997" x2="388.1" y2="377.72499999999997" stroke="#222" stroke-width="0.8"/>
<line x1="380.9" y1="393.0025" x2="388.1" y2="393.0025" stroke="#222" stroke-width="0.8"/>
<circle cx="384.5" cy="377.7" r="1.9" fill="#111"/>
<circle cx="381.5" cy="390.5" r="1.9" fill="#111"/>
<circle cx="387.0" cy="387.9" r="1.9" fill="#111"/>
<line x1="404.1" y1="336.2575" x2="404.1" y2="356.6275" stroke="#222" stroke-width="0.8"/>
<line x1="400.5" y1="336.2575" x2="407.70000000000005" y2="336.2575" stroke="#222" stroke-width="0.8"/>
<line x1="400.5" y1="356.6275" x2="407.70000000000005" y2="356.6275" stroke="#222" stroke-width="0.8"/>
<circle cx="401.9" cy="337.7" r="1.9" fill="#111"/>
<circle cx="405.9" cy="342.4" r="1.9" fill="#111"/>
<circle cx="404.1" cy="355.9" r="1.9" fill="#111"/>
<line x1="423.35" y1="409.0075" x2="423.35" y2="439.5625" stroke="#222" stroke-width="0.8"/>
<line x1="419.75" y1="409.0075" x2="426.95000000000005" y2="409.0075" stroke="#222" stroke-width="0.8"/>
<line x1="419.75" y1="439.5625" x2="426.95000000000005" y2="439.5625" stroke="#222" stroke-width="0.8"/>
<circle cx="423.4" cy="409.0" r="1.9" fill="#111"/>
<circle cx="420.4" cy="433.0" r="1.9" fill="#111"/>
<circle cx="425.4" cy="430.5" r="1.9" fill="#111"/>
<line x1="303.5" y1="297.2" x2="303.5" y2="443.7" stroke="#222" stroke-width="1"/>
<line x1="303.5" y1="443.2" x2="435.4" y2="443.2" stroke="#222" stroke-width="1"/>
<line x1="299.0" y1="443.2" x2="303.5" y2="443.2" stroke="#222" stroke-width="0.9"/>
<text x="296.8" y="446.4" font-size="9.36" text-anchor="end" fill="#333">0</text>
<line x1="299.0" y1="406.825" x2="303.5" y2="406.825" stroke="#222" stroke-width="0.9"/>
<text x="296.8" y="410.025" font-size="9.36" text-anchor="end" fill="#333">1</text>
<line x1="299.0" y1="370.45" x2="303.5" y2="370.45" stroke="#222" stroke-width="0.9"/>
<text x="296.8" y="373.65" font-size="9.36" text-anchor="end" fill="#333">2</text>
<line x1="299.0" y1="334.075" x2="303.5" y2="334.075" stroke="#222" stroke-width="0.9"/>
<text x="296.8" y="337.275" font-size="9.36" text-anchor="end" fill="#333">3</text>
<line x1="299.0" y1="297.7" x2="303.5" y2="297.7" stroke="#222" stroke-width="0.9"/>
<text x="296.8" y="300.9" font-size="9.36" text-anchor="end" fill="#333">4</text>
<text x="280.4" y="379.3" font-size="9.98" text-anchor="middle" fill="#333" transform="rotate(-90 280.4 379.3)">Relative SOX2</text>
<line x1="310.8" y1="447.6" x2="360.4" y2="447.6" stroke="#a8a8a8" stroke-width="1.6"/>
<line x1="377" y1="447.6" x2="426.7" y2="447.6" stroke="#a8a8a8" stroke-width="1.6"/>
<text x="331.3" y="460.5" font-size="10.19" text-anchor="middle" fill="#3b4772">Cytoplasm</text>
<text x="398.2" y="460.5" font-size="10.19" text-anchor="middle" fill="#3b4772">Nucleus</text>
<line x1="319.6" y1="307.6" x2="351.1" y2="307.6" stroke="#444" stroke-width="0.9"/>
<text x="335.35" y="308.90000000000003" font-size="9.15" text-anchor="middle" fill="#333">**</text>
<line x1="335" y1="321.3" x2="352" y2="321.3" stroke="#444" stroke-width="0.9"/>
<text x="343.5" y="322.6" font-size="9.15" text-anchor="middle" fill="#333">***</text>
<line x1="382.8" y1="308.2" x2="399.9" y2="308.2" stroke="#444" stroke-width="0.9"/>
<text x="391.35" y="309.5" font-size="9.15" text-anchor="middle" fill="#333">*</text>
<line x1="382.8" y1="317.3" x2="419" y2="317.3" stroke="#444" stroke-width="0.9"/>
<text x="400.9" y="318.6" font-size="9.15" text-anchor="middle" fill="#333">*</text>
<line x1="402.7" y1="329.2" x2="419.7" y2="329.2" stroke="#444" stroke-width="0.9"/>
<text x="411.2" y="330.5" font-size="9.15" text-anchor="middle" fill="#333">***</text>
<rect x="433.3" y="303.6" width="15.4" height="8.9" fill="#2fb24c" stroke="#222" stroke-width="1"/>
<text x="457.3" y="311.8" font-size="9.88" text-anchor="start" fill="#333">Myc-SOX2 WT</text>
<rect x="433.3" y="320.6" width="15.4" height="8.9" fill="#2c4f9f" stroke="#222" stroke-width="1"/>
<text x="457.3" y="328.8" font-size="9.88" text-anchor="start" fill="#333">Myc-SOX2 S251E</text>
<rect x="433.3" y="337.6" width="15.4" height="8.9" fill="#e23a2c" stroke="#222" stroke-width="1"/>
<text x="457.3" y="345.8" font-size="9.88" text-anchor="start" fill="#333">Myc-SOX2 S251A</text>
<text x="532" y="277.4" font-size="20" text-anchor="start" fill="#000" font-weight="bold">F</text>
<text x="597.9" y="287.2" font-size="11.2" text-anchor="middle" fill="#1aa34f" font-weight="bold">SOX2 S251E</text>
<text x="660.2" y="287.2" font-size="11.2" text-anchor="start" fill="#1aa34f" font-weight="bold" id="t2">SOX2 S251E</text>
<text x="727.6" y="287.2" font-size="11.2" text-anchor="start" fill="#2e3192" font-weight="bold">+DAPI</text>
<text x="599.1" y="414.9" font-size="11.2" text-anchor="middle" fill="#1aa34f" font-weight="bold">SOX2 S251A</text>
<text x="660.8" y="414.9" font-size="11.2" text-anchor="start" fill="#1aa34f" font-weight="bold">SOX2 S251A</text>
<text x="728.1" y="414.9" font-size="11.2" text-anchor="start" fill="#2e3192" font-weight="bold">+DAPI</text>
<rect x="551.8" y="293.2" width="100.40000000000009" height="106.60000000000002" fill="#040404" stroke="none" stroke-width="1"/>
<rect x="657.3" y="293.3" width="101.30000000000007" height="106.59999999999997" fill="#040404" stroke="none" stroke-width="1"/>
<rect x="552.2" y="421.4" width="101.59999999999991" height="106.60000000000002" fill="#040404" stroke="none" stroke-width="1"/>
<rect x="658.2" y="421.4" width="100.79999999999995" height="106.70000000000005" fill="#040404" stroke="none" stroke-width="1"/>
<line x1="559" y1="300.3" x2="570.9" y2="300.3" stroke="#ccc" stroke-width="1"/>
<ellipse cx="624.8" cy="306.7" rx="7" ry="5.8" fill="url(#ng1)" transform="rotate(30 624.8 306.7)" filter="url(#b05)"/>
<ellipse cx="577.4" cy="331.6" rx="7" ry="5.6" fill="url(#ng1)" transform="rotate(10 577.4 331.6)" filter="url(#b05)"/>
<ellipse cx="573.8" cy="344.1" rx="6.1" ry="6.4" fill="url(#ng1)" transform="rotate(-10 573.8 344.1)" filter="url(#b05)"/>
<ellipse cx="574.7" cy="366.9" rx="6.6" ry="5.8" fill="url(#ng1)" transform="rotate(5 574.7 366.9)" filter="url(#b05)"/>
<ellipse cx="621.5" cy="366.7" rx="5.9" ry="6.2" fill="url(#ng1)" transform="rotate(30 621.5 366.7)" filter="url(#b05)"/>
<ellipse cx="732.6" cy="306.8" rx="7" ry="5.8" fill="url(#ng2)" transform="rotate(30 732.6 306.8)" filter="url(#b05)"/>
<ellipse cx="685.2" cy="331.7" rx="7" ry="5.6" fill="url(#ng2)" transform="rotate(10 685.2 331.7)" filter="url(#b05)"/>
<ellipse cx="681.6" cy="344.2" rx="6.1" ry="6.4" fill="url(#ng2)" transform="rotate(-10 681.6 344.2)" filter="url(#b05)"/>
<ellipse cx="682.5" cy="367.0" rx="6.6" ry="5.8" fill="url(#ng2)" transform="rotate(5 682.5 367.0)" filter="url(#b05)"/>
<ellipse cx="729.3" cy="366.8" rx="5.9" ry="6.2" fill="url(#ng2)" transform="rotate(30 729.3 366.8)" filter="url(#b05)"/>
<g transform="translate(552.2,421.4)" fill="#1a8a34" fill-opacity="0.16" stroke="#2fb04a" stroke-opacity="0.75" stroke-width="1.0" filter="url(#b07)" stroke-linejoin="round">
<path d="M22.5,15 C22,9 28,6 34,7 C38,7.5 42,6.5 45.8,5.9 C43.5,10 43.5,18 40,22 C37,26 32,27 28,24.5 C24.5,22 22.5,18.5 22.5,15 Z"/>
<path d="M55,24.3 C57.5,20 56,13 58.5,9 C61,6.5 65,6.5 68,9 C72,12 79,15.5 88.2,20.9 C79,18.5 73,18 70,20 C66,22.5 60,23 55,24.3 Z"/>
<path d="M74.5,60.5 C76.5,56 77.5,52 77,49.5 C77.5,55 78.5,59 82.9,63 C85.5,63 88,62.5 90.5,61.7 C88.5,64 87.6,66 87.6,68.9 C86.5,73 85.5,76 84.6,79 C82,83 81,88 81.5,94 C82,98 82.1,100 82.1,102.6 C79.5,97 79,90 79,85 C78.3,80 77,76 76,72 C75,68 74.3,64 74.5,60.5 Z"/>
</g>
<g transform="translate(658.2,421.4)" fill="#1a8a34" fill-opacity="0.16" stroke="#2fb04a" stroke-opacity="0.75" stroke-width="1.0" filter="url(#b07)" stroke-linejoin="round">
<path d="M22.5,15 C22,9 28,6 34,7 C38,7.5 42,6.5 45.8,5.9 C43.5,10 43.5,18 40,22 C37,26 32,27 28,24.5 C24.5,22 22.5,18.5 22.5,15 Z"/>
<path d="M55,24.3 C57.5,20 56,13 58.5,9 C61,6.5 65,6.5 68,9 C72,12 79,15.5 88.2,20.9 C79,18.5 73,18 70,20 C66,22.5 60,23 55,24.3 Z"/>
<path d="M74.5,60.5 C76.5,56 77.5,52 77,49.5 C77.5,55 78.5,59 82.9,63 C85.5,63 88,62.5 90.5,61.7 C88.5,64 87.6,66 87.6,68.9 C86.5,73 85.5,76 84.6,79 C82,83 81,88 81.5,94 C82,98 82.1,100 82.1,102.6 C79.5,97 79,90 79,85 C78.3,80 77,76 76,72 C75,68 74.3,64 74.5,60.5 Z"/>
</g>
<ellipse cx="687.5" cy="438.4" rx="5.2" ry="5.5" fill="#2f5bd0" filter="url(#b05)"/>
<ellipse cx="696.7" cy="439.4" rx="5.0" ry="5.5" fill="#2f5bd0" filter="url(#b05)"/>
<ellipse cx="721.3000000000001" cy="435.5" rx="5.4" ry="6.0" fill="#2f5bd0" filter="url(#b05)"/>
<path transform="translate(658.2,421.4)" d="M74.5,60.5 C77,60 80,61.5 82.9,63 C85,64.5 87,66.5 87.6,69.5 C87.5,73 86,76.5 84.6,79 C83,81 81.5,82.5 80.4,82 C79,81 78.5,79.5 78.3,78.2 C77.5,74 75.5,70 74.9,65.5 C74.6,63.5 74.4,62 74.5,60.5 Z" fill="#2f5bd0" filter="url(#b05)"/>
<text x="32.5" y="567.7" font-size="20" text-anchor="start" fill="#000" font-weight="bold">G</text>
<text x="115.8" y="568" font-size="9.98" text-anchor="middle" fill="#1a1a1a">Nucleoplasm</text>
<line x1="97.1" y1="575.1" x2="146" y2="575.1" stroke="#333" stroke-width="0.9"/>
<text x="185" y="559.5" font-size="9.98" text-anchor="middle" fill="#1a1a1a">Chromatin</text>
<text x="184.2" y="572.4" font-size="9.98" text-anchor="middle" fill="#1a1a1a">bound</text>
<line x1="162.8" y1="575.3" x2="212.8" y2="575.3" stroke="#333" stroke-width="0.9"/>
<text x="102.4" y="679.5" font-size="9.67" text-anchor="start" fill="#1a1a1a" transform="rotate(-90 102.4 679.5)">Myc-SOX2 (WT)</text>
<text x="127.30000000000001" y="679.5" font-size="9.67" text-anchor="start" fill="#1a1a1a" transform="rotate(-90 127.30000000000001 679.5)">Myc-SOX2 (S251E)</text>
<text x="150.70000000000002" y="679.5" font-size="9.67" text-anchor="start" fill="#1a1a1a" transform="rotate(-90 150.70000000000002 679.5)">Myc-SOX2 (S251A)</text>
<text x="177.20000000000002" y="679.5" font-size="9.67" text-anchor="start" fill="#1a1a1a" transform="rotate(-90 177.20000000000002 679.5)">Myc-SOX2 (WT)</text>
<text x="201.3" y="679.5" font-size="9.67" text-anchor="start" fill="#1a1a1a" transform="rotate(-90 201.3 679.5)">Myc-SOX2 (S251E)</text>
<text x="224.9" y="679.5" font-size="9.67" text-anchor="start" fill="#1a1a1a" transform="rotate(-90 224.9 679.5)">Myc-SOX2 (S251A)</text>
<text x="54.2" y="676.7" font-size="9.67" text-anchor="start" fill="#1a1a1a">(kDa)</text>
<rect x="81" y="687.5" width="158" height="17.100000000000023" fill="#fbfbfb" stroke="#4a4a4a" stroke-width="1.05"/>
<rect x="81" y="708.1" width="158" height="14.199999999999932" fill="#fbfbfb" stroke="#4a4a4a" stroke-width="1.05"/>
<rect x="81" y="726.5" width="158" height="17.899999999999977" fill="#fbfbfb" stroke="#4a4a4a" stroke-width="1.05"/>
<rect x="81" y="746.9" width="158" height="16.800000000000068" fill="#fbfbfb" stroke="#4a4a4a" stroke-width="1.05"/>
<text x="71.5" y="693.5" font-size="10.09" text-anchor="end" fill="#1a1a1a">55</text>
<line x1="74.1" y1="690" x2="76.8" y2="690" stroke="#333" stroke-width="1"/>
<text x="71.5" y="715.6" font-size="10.09" text-anchor="end" fill="#1a1a1a">15</text>
<line x1="74.1" y1="712.1" x2="76.8" y2="712.1" stroke="#333" stroke-width="1"/>
<text x="71.5" y="735.7" font-size="10.09" text-anchor="end" fill="#1a1a1a">130</text>
<line x1="74.1" y1="732.2" x2="76.8" y2="732.2" stroke="#333" stroke-width="1"/>
<text x="71.5" y="755.8" font-size="10.09" text-anchor="end" fill="#1a1a1a">15</text>
<line x1="74.1" y1="752.3" x2="76.8" y2="752.3" stroke="#333" stroke-width="1"/>
<text x="244.5" y="700" font-size="10.09" text-anchor="start" fill="#1a1a1a">Myc-SOX2</text>
<text x="244.5" y="719.3" font-size="10.09" text-anchor="start" fill="#1a1a1a">pH3 Ser10</text>
<text x="244.5" y="737.7" font-size="10.09" text-anchor="start" fill="#1a1a1a">Rb</text>
<text x="244.5" y="756.1" font-size="10.09" text-anchor="start" fill="#1a1a1a">H4</text>
<rect x="84.6" y="692.2" width="22.8" height="4.6" rx="2.3" ry="2.3" fill="#000" fill-opacity="0.8" filter="url(#b1)"/>
<rect x="114.7" y="691.9" width="17.0" height="6.3" rx="3.1" ry="3.1" fill="#000" fill-opacity="1" filter="url(#b1)"/>
<rect x="138.1" y="692.3" width="16.7" height="5.9" rx="2.9" ry="2.9" fill="#000" fill-opacity="1" filter="url(#b1)"/>
<rect x="161.6" y="692.6" width="20.1" height="5.9" rx="2.9" ry="2.9" fill="#000" fill-opacity="1" filter="url(#b1)"/>
<rect x="188.7" y="691.9" width="16.5" height="6.6" rx="3.3" ry="3.3" fill="#000" fill-opacity="1" filter="url(#b1)"/>
<rect x="213.8" y="694.3" width="20.4" height="3.8" rx="1.9" ry="1.9" fill="#000" fill-opacity="0.65" filter="url(#b1)"/>
<rect x="188.7" y="713.4" width="21.2" height="5.2" rx="2.6" ry="2.6" fill="#000" fill-opacity="1" filter="url(#b1)"/>
<rect x="215.3" y="714.6" width="19.4" height="1.7" rx="0.9" ry="0.9" fill="#000" fill-opacity="0.12" filter="url(#b1)"/>
<rect x="85.4" y="736.0" width="19.2" height="2.8" rx="1.4" ry="1.4" fill="#000" fill-opacity="1" filter="url(#b1)"/>
<rect x="113.0" y="735.9" width="17.3" height="2.7" rx="1.3" ry="1.3" fill="#000" fill-opacity="0.9" filter="url(#b1)"/>
<rect x="138.1" y="735.9" width="14.5" height="2.7" rx="1.3" ry="1.3" fill="#000" fill-opacity="0.7" filter="url(#b1)"/>
<rect x="162.3" y="737.0" width="17.4" height="1.9" rx="0.9" ry="0.9" fill="#000" fill-opacity="0.08" filter="url(#b1)"/>
<rect x="167.0" y="753.3" width="19.5" height="4.9" rx="2.5" ry="2.5" fill="#000" fill-opacity="1" filter="url(#b1)"/>
<rect x="192.1" y="752.8" width="18.6" height="5.1" rx="2.6" ry="2.6" fill="#000" fill-opacity="1" filter="url(#b1)"/>
<rect x="218.0" y="753.3" width="19.0" height="4.6" rx="2.3" ry="2.3" fill="#000" fill-opacity="1" filter="url(#b1)"/>
<text x="313.2" y="567.7" font-size="20" text-anchor="start" fill="#000" font-weight="bold">H</text>
<rect x="355.4" y="688.825" width="15.700000000000045" height="36.375" fill="#2fb24c" stroke="#222" stroke-width="0.8"/>
<rect x="375" y="672.4562500000001" width="15.699999999999989" height="52.74374999999998" fill="#2c4f9f" stroke="#222" stroke-width="0.8"/>
<rect x="394.1" y="681.1862500000001" width="15.399999999999977" height="44.01374999999996" fill="#e2352a" stroke="#222" stroke-width="0.8"/>
<rect x="425" y="687.37" width="15.699999999999989" height="37.83000000000004" fill="#2fb24c" stroke="#222" stroke-width="0.8"/>
<rect x="444.2" y="633.5350000000001" width="15.900000000000034" height="91.66499999999996" fill="#2c4f9f" stroke="#222" stroke-width="0.8"/>
<rect x="463.9" y="714.2875" width="15.900000000000034" height="10.912500000000023" fill="#e2352a" stroke="#222" stroke-width="0.8"/>
<circle cx="358.2" cy="688.8" r="1.9" fill="#111"/>
<circle cx="363.2" cy="688.8" r="1.9" fill="#111"/>
<circle cx="368.2" cy="688.8" r="1.9" fill="#111"/>
<line x1="382.85" y1="656.815" x2="382.85" y2="688.825" stroke="#222" stroke-width="0.8"/>
<line x1="379.25" y1="656.815" x2="386.45000000000005" y2="656.815" stroke="#222" stroke-width="0.8"/>
<line x1="379.25" y1="688.825" x2="386.45000000000005" y2="688.825" stroke="#222" stroke-width="0.8"/>
<circle cx="382.9" cy="659.0" r="1.9" fill="#111"/>
<circle cx="382.9" cy="668.8" r="1.9" fill="#111"/>
<circle cx="382.9" cy="689.6" r="1.9" fill="#111"/>
<line x1="401.8" y1="676.8212500000001" x2="401.8" y2="685.9150000000001" stroke="#222" stroke-width="0.8"/>
<line x1="398.2" y1="676.8212500000001" x2="405.40000000000003" y2="676.8212500000001" stroke="#222" stroke-width="0.8"/>
<line x1="398.2" y1="685.9150000000001" x2="405.40000000000003" y2="685.9150000000001" stroke="#222" stroke-width="0.8"/>
<circle cx="401.8" cy="676.8" r="1.9" fill="#111"/>
<circle cx="404.8" cy="681.6" r="1.9" fill="#111"/>
<circle cx="398.8" cy="684.5" r="1.9" fill="#111"/>
<line x1="432.85" y1="682.64125" x2="432.85" y2="691.735" stroke="#222" stroke-width="0.8"/>
<line x1="429.25" y1="682.64125" x2="436.45000000000005" y2="682.64125" stroke="#222" stroke-width="0.8"/>
<line x1="429.25" y1="691.735" x2="436.45000000000005" y2="691.735" stroke="#222" stroke-width="0.8"/>
<circle cx="432.9" cy="683.4" r="1.9" fill="#111"/>
<circle cx="435.9" cy="688.8" r="1.9" fill="#111"/>
<circle cx="429.9" cy="691.4" r="1.9" fill="#111"/>
<line x1="452.15" y1="606.6175000000001" x2="452.15" y2="661.9075" stroke="#222" stroke-width="0.8"/>
<line x1="448.54999999999995" y1="606.6175000000001" x2="455.75" y2="606.6175000000001" stroke="#222" stroke-width="0.8"/>
<line x1="448.54999999999995" y1="661.9075" x2="455.75" y2="661.9075" stroke="#222" stroke-width="0.8"/>
<circle cx="452.1" cy="608.1" r="1.9" fill="#111"/>
<circle cx="452.1" cy="629.9" r="1.9" fill="#111"/>
<circle cx="452.1" cy="662.6" r="1.9" fill="#111"/>
<line x1="471.85" y1="713.1962500000001" x2="471.85" y2="714.65125" stroke="#222" stroke-width="0.8"/>
<line x1="468.25" y1="713.1962500000001" x2="475.45000000000005" y2="713.1962500000001" stroke="#222" stroke-width="0.8"/>
<line x1="468.25" y1="714.65125" x2="475.45000000000005" y2="714.65125" stroke="#222" stroke-width="0.8"/>
<circle cx="467.4" cy="713.6" r="1.9" fill="#111"/>
<circle cx="471.9" cy="714.3" r="1.9" fill="#111"/>
<circle cx="476.4" cy="713.9" r="1.9" fill="#111"/>
<line x1="351.5" y1="579.2" x2="351.5" y2="725.7" stroke="#222" stroke-width="1"/>
<line x1="351.5" y1="725.2" x2="483.9" y2="725.2" stroke="#222" stroke-width="1"/>
<line x1="347.0" y1="725.2" x2="351.5" y2="725.2" stroke="#222" stroke-width="0.9"/>
<text x="345" y="728.4000000000001" font-size="9.36" text-anchor="end" fill="#333">0</text>
<line x1="347.0" y1="688.825" x2="351.5" y2="688.825" stroke="#222" stroke-width="0.9"/>
<text x="345" y="692.0250000000001" font-size="9.36" text-anchor="end" fill="#333">1</text>
<line x1="347.0" y1="652.45" x2="351.5" y2="652.45" stroke="#222" stroke-width="0.9"/>
<text x="345" y="655.6500000000001" font-size="9.36" text-anchor="end" fill="#333">2</text>
<line x1="347.0" y1="616.075" x2="351.5" y2="616.075" stroke="#222" stroke-width="0.9"/>
<text x="345" y="619.2750000000001" font-size="9.36" text-anchor="end" fill="#333">3</text>
<line x1="347.0" y1="579.7" x2="351.5" y2="579.7" stroke="#222" stroke-width="0.9"/>
<text x="345" y="582.9000000000001" font-size="9.36" text-anchor="end" fill="#333">4</text>
<text x="327.4" y="661.5" font-size="9.67" text-anchor="middle" fill="#333" transform="rotate(-90 327.4 661.5)">Relative SOX2</text>
<line x1="359" y1="731" x2="408.1" y2="731" stroke="#a8a8a8" stroke-width="1.6"/>
<line x1="425" y1="731" x2="474.9" y2="731" stroke="#a8a8a8" stroke-width="1.6"/>
<text x="381" y="742.8" font-size="9.98" text-anchor="middle" fill="#3b4772">Nucleoplasm</text>
<text x="444.6" y="743.4" font-size="9.98" text-anchor="middle" fill="#3b4772">Chromatin</text>
<text x="446.7" y="757" font-size="9.98" text-anchor="middle" fill="#3b4772">bound</text>
<line x1="434.6" y1="585.2" x2="451.6" y2="585.2" stroke="#444" stroke-width="0.9"/>
<text x="443.1" y="586.5" font-size="9.15" text-anchor="middle" fill="#333">**</text>
<line x1="434.6" y1="594.2" x2="466.6" y2="594.2" stroke="#444" stroke-width="0.9"/>
<text x="450.6" y="595.5" font-size="9.15" text-anchor="middle" fill="#333">*</text>
<line x1="451.9" y1="603.2" x2="469.4" y2="603.2" stroke="#444" stroke-width="0.9"/>
<text x="460.65" y="604.5" font-size="9.15" text-anchor="middle" fill="#333">***</text>
<rect x="480" y="590.1" width="15.4" height="8.9" fill="#2fb24c" stroke="#222" stroke-width="1"/>
<text x="500.9" y="598.3000000000001" font-size="9.88" text-anchor="start" fill="#333">Myc-SOX2 WT</text>
<rect x="480" y="607.1" width="15.4" height="8.9" fill="#2c4f9f" stroke="#222" stroke-width="1"/>
<text x="500.9" y="615.3000000000001" font-size="9.88" text-anchor="start" fill="#333">Myc-SOX2 S251E</text>
<rect x="480" y="624.3" width="15.4" height="8.9" fill="#e2352a" stroke="#222" stroke-width="1"/>
<text x="500.9" y="632.5" font-size="9.88" text-anchor="start" fill="#333">Myc-SOX2 S251A</text>
<text x="588.3" y="567.7" font-size="20" text-anchor="start" fill="#000" font-weight="bold">I</text>
<rect x="639.6" y="706.15" width="16.199999999999932" height="17.950000000000045" fill="#ffffff" stroke="#222" stroke-width="0.8"/>
<rect x="663.4" y="664.865" width="16.399999999999977" height="59.235000000000014" fill="#1fa64a" stroke="#222" stroke-width="0.8"/>
<rect x="687.5" y="635.2475000000001" width="16.399999999999977" height="88.85249999999996" fill="#2b57a8" stroke="#222" stroke-width="0.8"/>
<rect x="711.8" y="682.815" width="15.900000000000091" height="41.28499999999997" fill="#c4342b" stroke="#222" stroke-width="0.8"/>
<circle cx="643.2" cy="706.1" r="1.9" fill="#111"/>
<circle cx="646.2" cy="706.1" r="1.9" fill="#111"/>
<circle cx="649.2" cy="706.1" r="1.9" fill="#111"/>
<circle cx="652.2" cy="706.1" r="1.9" fill="#111"/>
<line x1="647.7" y1="724.1" x2="647.7" y2="727.6" stroke="#222" stroke-width="0.9"/>
<line x1="671.5999999999999" y1="642.0685" x2="671.5999999999999" y2="688.2" stroke="#333" stroke-width="0.7"/>
<line x1="667.5999999999999" y1="642.0685" x2="675.5999999999999" y2="642.0685" stroke="#333" stroke-width="0.8"/>
<line x1="667.5999999999999" y1="688.2" x2="675.5999999999999" y2="688.2" stroke="#333" stroke-width="0.8"/>
<circle cx="671.6" cy="638.3" r="1.9" fill="#111"/>
<circle cx="668.6" cy="662.7" r="1.9" fill="#111"/>
<circle cx="674.6" cy="663.4" r="1.9" fill="#111"/>
<circle cx="671.6" cy="694.5" r="1.9" fill="#111"/>
<line x1="671.5999999999999" y1="724.1" x2="671.5999999999999" y2="727.6" stroke="#222" stroke-width="0.9"/>
<line x1="695.7" y1="590.9110000000001" x2="695.7" y2="680.1225000000001" stroke="#333" stroke-width="0.7"/>
<line x1="691.7" y1="590.9110000000001" x2="699.7" y2="590.9110000000001" stroke="#333" stroke-width="0.8"/>
<line x1="691.7" y1="680.1225000000001" x2="699.7" y2="680.1225000000001" stroke="#333" stroke-width="0.8"/>
<circle cx="695.7" cy="582.7" r="1.9" fill="#111"/>
<circle cx="695.7" cy="620.0" r="1.9" fill="#111"/>
<circle cx="695.7" cy="651.4" r="1.9" fill="#111"/>
<circle cx="695.7" cy="687.3" r="1.9" fill="#111"/>
<line x1="695.7" y1="724.1" x2="695.7" y2="727.6" stroke="#222" stroke-width="0.9"/>
<line x1="719.75" y1="664.3265" x2="719.75" y2="702.0215000000001" stroke="#333" stroke-width="0.7"/>
<line x1="715.75" y1="664.3265" x2="723.75" y2="664.3265" stroke="#333" stroke-width="0.8"/>
<line x1="715.75" y1="702.0215000000001" x2="723.75" y2="702.0215000000001" stroke="#333" stroke-width="0.8"/>
<circle cx="719.8" cy="658.0" r="1.9" fill="#111"/>
<circle cx="719.8" cy="679.2" r="1.9" fill="#111"/>
<circle cx="719.8" cy="695.7" r="1.9" fill="#111"/>
<circle cx="719.8" cy="700.8" r="1.9" fill="#111"/>
<line x1="719.75" y1="724.1" x2="719.75" y2="727.6" stroke="#222" stroke-width="0.9"/>
<line x1="635.5" y1="580.0" x2="635.5" y2="724.6" stroke="#222" stroke-width="1"/>
<line x1="635.5" y1="724.1" x2="731.8" y2="724.1" stroke="#222" stroke-width="1"/>
<line x1="631" y1="724.1" x2="635.5" y2="724.1" stroke="#222" stroke-width="0.9"/>
<text x="629" y="727.2" font-size="8.53" text-anchor="end" fill="#333">0</text>
<line x1="631" y1="688.2" x2="635.5" y2="688.2" stroke="#222" stroke-width="0.9"/>
<text x="629" y="691.3000000000001" font-size="8.53" text-anchor="end" fill="#333">2</text>
<line x1="631" y1="652.3000000000001" x2="635.5" y2="652.3000000000001" stroke="#222" stroke-width="0.9"/>
<text x="629" y="655.4000000000001" font-size="8.53" text-anchor="end" fill="#333">4</text>
<line x1="631" y1="616.4000000000001" x2="635.5" y2="616.4000000000001" stroke="#222" stroke-width="0.9"/>
<text x="629" y="619.5000000000001" font-size="8.53" text-anchor="end" fill="#333">6</text>
<line x1="631" y1="580.5" x2="635.5" y2="580.5" stroke="#222" stroke-width="0.9"/>
<text x="629" y="583.6" font-size="8.53" text-anchor="end" fill="#333">8</text>
<text x="616.6" y="648.9" font-size="9.98" text-anchor="middle" fill="#1a1a1a" transform="rotate(-90 616.6 648.9)">R.L.U.</text>
<line x1="669.4" y1="577.2" x2="693.5" y2="577.2" stroke="#444" stroke-width="0.9"/>
<text x="681.5" y="578.5" font-size="9.15" text-anchor="middle" fill="#333">*</text>
<line x1="697.6" y1="577.2" x2="721.7" y2="577.2" stroke="#444" stroke-width="0.9"/>
<text x="709.6" y="578.5" font-size="9.15" text-anchor="middle" fill="#333">*</text>
<text x="649.3" y="736.5" font-size="8.94" text-anchor="end" fill="#333" transform="rotate(-45 649.3 736.5)">SOX2 prom</text>
<text x="672.3" y="736.5" font-size="8.94" text-anchor="end" fill="#333" transform="rotate(-45 672.3 736.5)">WT</text>
<text x="695.4" y="736.5" font-size="8.94" text-anchor="end" fill="#333" transform="rotate(-45 695.4 736.5)">S251E</text>
<text x="719.4" y="736.5" font-size="8.94" text-anchor="end" fill="#333" transform="rotate(-45 719.4 736.5)">S251A</text>
</svg>
</body></html>
